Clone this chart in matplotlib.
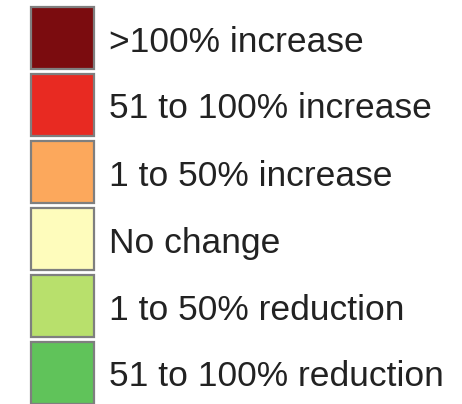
import matplotlib
matplotlib.use("Agg")
import matplotlib.pyplot as plt
from matplotlib.patches import Rectangle

# Legend entries, top to bottom
labels = [
    ">100% increase",
    "51 to 100% increase",
    "1 to 50% increase",
    "No change",
    "1 to 50% reduction",
    "51 to 100% reduction",
]
colors = ["#7b0c0f", "#e82a22", "#fca85c", "#fefcbc", "#b8e06c", "#60c35a"]

W, H = 462, 404
fig = plt.figure(figsize=(W / 100, H / 100), dpi=100)
ax = fig.add_axes([0, 0, 1, 1])
ax.set_xlim(0, W)
ax.set_ylim(H, 0)
ax.axis("off")

# layout in pixels
top = 7
pitch = 67
box_w = 63
box_h = 62
box_x = 31
text_x = 109

for i, (lab, col) in enumerate(zip(labels, colors)):
    y = top + i * pitch
    ax.add_patch(Rectangle((box_x, y), box_w, box_h, facecolor=col,
                           edgecolor="#7f7f7f", linewidth=1.6))
    ax.text(text_x, y + box_h / 2 + 4, lab, fontsize=25.5, family="Liberation Sans",
            color="#222222", va="center", ha="left")

fig.savefig("out.png", dpi=100)
